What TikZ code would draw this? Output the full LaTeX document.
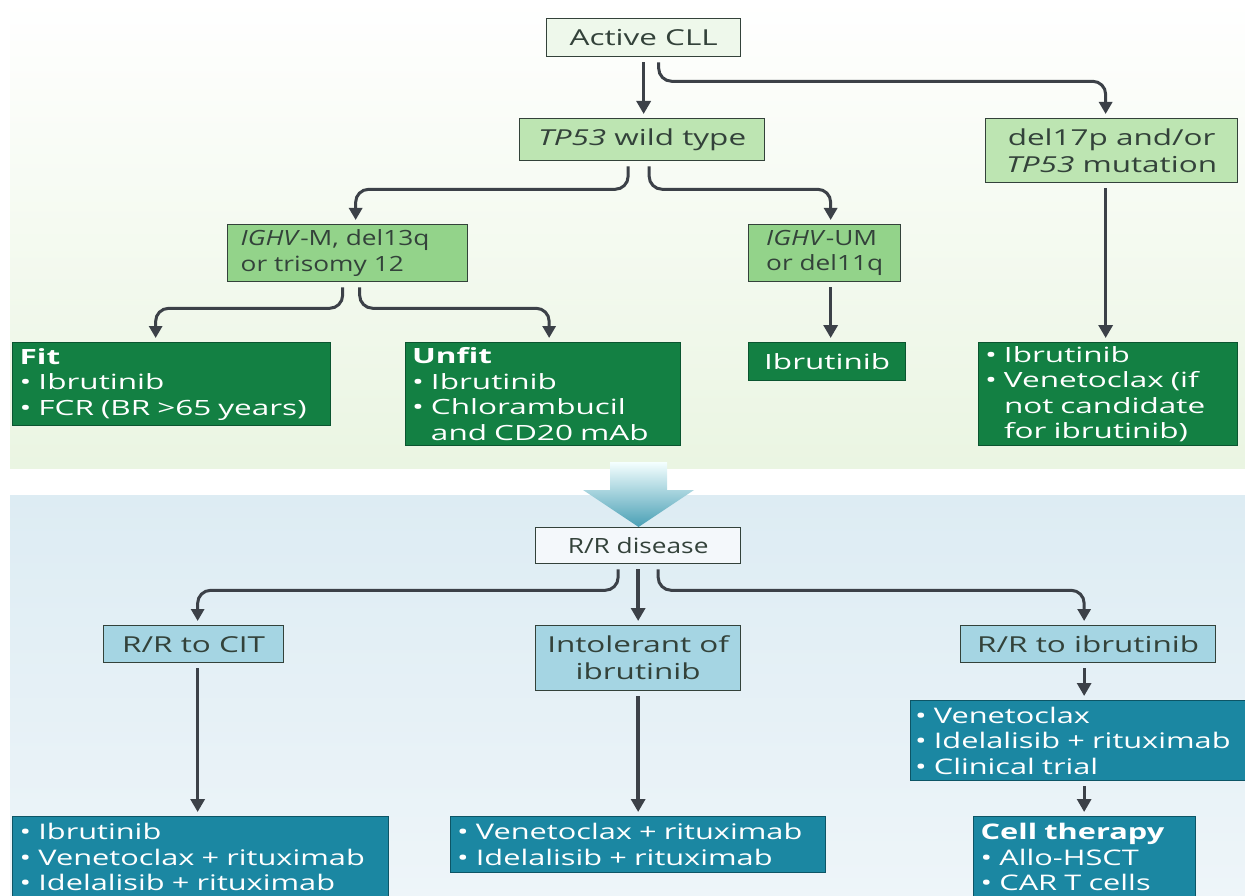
\documentclass[tikz,border=0pt]{standalone}
\usepackage{fontspec}
\setmainfont{Open Sans}
\newfontfamily\wA[FakeStretch=1.43]{Open Sans}
\newfontfamily\wG[FakeStretch=1.5]{Open Sans}
\newfontfamily\wB[FakeStretch=1.25]{Open Sans}
\usetikzlibrary{arrows.meta}
\definecolor{arrowc}{HTML}{3C4148}
\definecolor{dkgreen}{HTML}{138043}
\definecolor{dkgreenb}{HTML}{0B5530}
\definecolor{ltgreen}{HTML}{BDE5B2}
\definecolor{midgreen}{HTML}{93D38A}
\definecolor{palegreen}{HTML}{EEF8EB}
\definecolor{tealc}{HTML}{1B87A2}
\definecolor{tealb}{HTML}{0D5566}
\definecolor{ltblue}{HTML}{A5D5E3}
\definecolor{paleblue}{HTML}{F4F8FB}
\definecolor{txtdk}{HTML}{33423A}
\definecolor{bgtop}{HTML}{FFFFFF}
\definecolor{bggreen}{HTML}{EAF5E2}
\definecolor{bgblue}{HTML}{DDECF3}
\definecolor{bgblue2}{HTML}{EEF5F9}
\tikzset{
  bx/.style={draw=#1, line width=1.3pt, anchor=north west, inner sep=0pt},
  lightbox/.style={bx=txtdk, text=txtdk, font=\wA\fontsize{22}{27}\selectfont, align=center},
  lightboxB/.style={lightbox, font=\wB\fontsize{21}{25.5}\selectfont},
  greenbox/.style={bx=dkgreenb, fill=dkgreen, text=white, font=\wG\fontsize{21}{25.5}\selectfont},
  tealbox/.style={bx=tealb, fill=tealc, text=white, font=\wA\fontsize{21.5}{25.5}\selectfont},
  arr/.style={draw=arrowc, line width=3.6pt, -{Triangle[length=13pt,width=14pt]}, shorten <=5pt, shorten >=4pt},
  carr/.style={draw=arrowc, line width=3pt, rounded corners=13pt, -{Triangle[length=12pt,width=13pt]}, shorten <=5pt, shorten >=4pt},
}
\begin{document}
\begin{tikzpicture}[x=1pt,y=-1pt]
\useasboundingbox (0,0) rectangle (1245,896);
\clip (0,0) rectangle (1245,896);
% panels
\fill[top color=bgtop, bottom color=bggreen] (10,0) rectangle (1245,468);
\fill[top color=bgblue, bottom color=bgblue2] (10,495) rectangle (1245,900);
% big arrow
\shade[top color=white!80!cyan!20, bottom color=tealc!80!white] (610,462) -- (667,462) -- (667,490) -- (694,490) -- (638.5,527) -- (583,490) -- (610,490) -- cycle;
% top tree
\node[lightbox, fill=palegreen, minimum width=194pt, minimum height=38pt] (cll) at (546,18) {Active CLL};
\node[lightbox, fill=ltgreen, minimum width=245pt, minimum height=42pt] (tp53) at (519,118) {\textit{TP53} wild type};
\node[lightbox, fill=ltgreen, minimum width=252pt, minimum height=64pt] (del17) at (985,118) {del17p and/or\\\textit{TP53} mutation};
\node[lightboxB, fill=midgreen, align=left, text width=214pt, minimum width=240pt, minimum height=57pt] (ighvm) at (227,224) {\textit{IGHV}-M, del13q\\or trisomy 12};
\node[lightboxB, fill=midgreen, align=left, minimum width=152pt, minimum height=57pt] (ighvum) at (748,224) {\textit{IGHV}-UM\\or del11q};
\node[greenbox, align=left, text width=304pt, minimum width=318pt, minimum height=83pt] (fit) at (12,342) {\textbf{Fit}\\• Ibrutinib\\• FCR (BR >65 years)};
\node[greenbox, align=left, text width=262pt, minimum width=275pt, minimum height=103pt] (unfit) at (405,342) {\textbf{Unfit}\\• Ibrutinib\\• Chlorambucil\\\phantom{• }and CD20 mAb};
\node[greenbox, align=center, minimum width=157pt, minimum height=38pt] (ibr) at (748,342) {Ibrutinib};
\node[greenbox, align=left, text width=246pt, minimum width=259pt, minimum height=103pt] (del17r) at (978,342) {• Ibrutinib\\• Venetoclax (if\\\phantom{• }not candidate\\\phantom{• }for ibrutinib)};
% bottom tree
\node[lightboxB, fill=paleblue, minimum width=205pt, minimum height=36pt] (rr) at (535,527) {R/R disease};
\node[lightbox, fill=ltblue, minimum width=180pt, minimum height=37pt] (cit) at (103,625) {R/R to CIT};
\node[lightbox, fill=ltblue, minimum width=205pt, minimum height=65pt] (intol) at (535,625) {Intolerant of\\ibrutinib};
\node[lightbox, fill=ltblue, minimum width=255pt, minimum height=37pt] (rri) at (960,625) {R/R to ibrutinib};
\node[tealbox, align=left, text width=362pt, minimum width=376pt, inner ysep=7pt] (b1) at (12,816) {• Ibrutinib\\• Venetoclax + rituximab\\• Idelalisib + rituximab\\\strut};
\node[tealbox, align=left, text width=362pt, minimum width=375pt, minimum height=56pt] (b2) at (450,816) {• Venetoclax + rituximab\\• Idelalisib + rituximab};
\node[tealbox, align=left, text width=336pt, minimum width=345pt, minimum height=80pt] (b3) at (910,700) {• Venetoclax\\• Idelalisib + rituximab\\• Clinical trial};
\node[tealbox, align=left, text width=208pt, minimum width=222pt, inner ysep=7pt] (cell) at (973,816) {\textbf{Cell therapy}\\• Allo-HSCT\\• CAR T cells\\\strut};
% connectors top
\draw[arr] (cll.south) -- (cll.south |- tp53.north);
\draw[carr] ([xshift=15pt]cll.south) -- ++(0,24) -| ([xshift=-6pt]del17.north);
\draw[carr] ([xshift=-14pt]tp53.south) -- ++(0,28) -| ([xshift=8pt]ighvm.north);
\draw[carr] ([xshift=7pt]tp53.south) -- ++(0,28) -| ([xshift=6pt]ighvum.north);
\draw[carr] ([xshift=-5pt]ighvm.south) -- ++(0,26) -| ([xshift=-16pt]fit.north);
\draw[carr] ([xshift=12pt]ighvm.south) -- ++(0,26) -| ([xshift=6pt]unfit.north);
\draw[arr] ([xshift=6pt]ighvum.south) -- ([xshift=6pt]ighvum.south |- ibr.north);
\draw[arr] ([xshift=-6pt]del17.south) -- ([xshift=-6pt]del17.south |- del17r.north);
% connectors bottom
\draw[carr] ([xshift=-20pt]rr.south) -- ++(0,26) -| ([xshift=4pt]cit.north);
\draw[arr] (rr.south) -- (intol.north);
\draw[carr] ([xshift=20pt]rr.south) -- ++(0,26) -| ([xshift=-4pt]rri.north);
\draw[arr] ([xshift=4pt]cit.south) -- ([xshift=4pt]cit.south |- b1.north);
\draw[arr] (intol.south) -- (intol.south |- b2.north);
\draw[arr, line width=3pt] ([xshift=-4pt]rri.south) -- ([xshift=-4pt]rri.south |- b3.north);
\draw[arr, line width=3pt] ([xshift=-4pt]rri.south |- b3.south) -- ([xshift=-4pt]rri.south |- cell.north);
\end{tikzpicture}
\end{document}
